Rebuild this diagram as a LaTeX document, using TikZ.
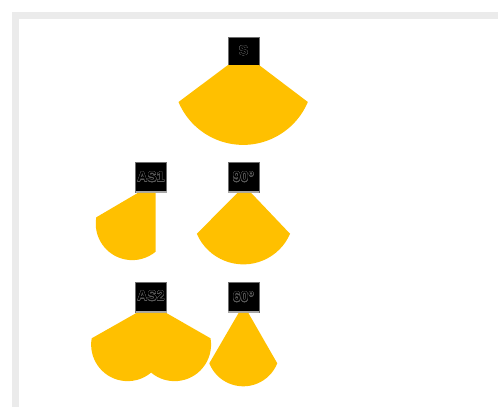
\documentclass[tikz,border=0pt]{standalone}
\usepackage{fontspec}
\setsansfont{Liberation Sans}
\usepackage{contour}
\usetikzlibrary{positioning}
\definecolor{beamcol}{HTML}{FFC000}
\definecolor{framecol}{HTML}{EBEBEB}
\definecolor{edgecol}{HTML}{6E6E6E}
\definecolor{lblcol}{HTML}{5A5A5A}
\contourlength{0.22pt}
\newcommand{\lbl}[1]{\contour{lblcol}{#1}}

\begin{document}
\begin{tikzpicture}[
  x=1pt, y=1pt,
  font=\sffamily\bfseries\fontsize{14}{15}\selectfont,
  chip/.style={
    draw=edgecol, line width=0.7pt, fill=black, text=black, inner sep=0pt, outer sep=0pt,
    minimum width=31pt, minimum height=29.5pt
  },
  base/.style={draw=black!35, line width=1.6pt},
  beam/.style={fill=beamcol},
  frame/.style={draw=framecol, line width=7pt}
]
\useasboundingbox (0,0) rectangle (498,-407);

% Frame along top and left
\coordinate (fa) at (15.5,-407);
\coordinate (fb) at (15.5,-15.5);
\coordinate (fc) at (498,-15.5);
\draw[frame] (fa) -- (fb) -- (fc);

% Chips
\node[chip, minimum height=28pt] (s) at (243.5,-51) {\lbl{S}};
\node[chip, below=97.5pt of s] (n90) {\lbl{90°}};
\node[chip, below=90.5pt of n90] (n60) {\lbl{60°}};
\node[chip, left=61.5pt of n90] (as1) {\lbl{AS1}};
\node[chip, below=90.5pt of as1] (as2) {\raisebox{2.5pt}{\lbl{AS2}}};

% Light base under the lower chips
\draw[base] (n90.south west) -- (n90.south east);
\draw[base] (n60.south west) -- (n60.south east);
\draw[base] (as1.south west) -- (as1.south east);
\draw[base] (as2.south west) -- (as2.south east);

% Beams
\fill[beam] (s.south west) -- ++(-49.5,-37) arc[start angle=202.9, end angle=337.1, radius=70.2] -- (s.south east) -- cycle;
\fill[beam] (n90.south) ++(-6,-0.8) -- ++(-40.7,-41) arc[start angle=203.5, end angle=336.5, radius=50.85] -- ++(-39,41) -- cycle;
\fill[beam] (n60.south) ++(-4.8,-0.8) -- ++(-29.4,-50.5) arc[start angle=201.8, end angle=338.2, radius=36.6] -- ++(-29,50.5) -- cycle;
\fill[beam] (as1.south) ++(4.7,-0.8) -- ++(-17.7,0) -- ++(-41.7,-24.5) arc[start angle=170, end angle=310, radius=36.5] -- cycle;
\fill[beam] (as2.south) ++(-14.3,-0.8) -- ++(-45,-25.5) arc[start angle=170, end angle=310, radius=36.5] arc[start angle=230, end angle=370, radius=36.5] -- ++(-44.5,25.5) -- cycle;

\end{tikzpicture}
\end{document}
